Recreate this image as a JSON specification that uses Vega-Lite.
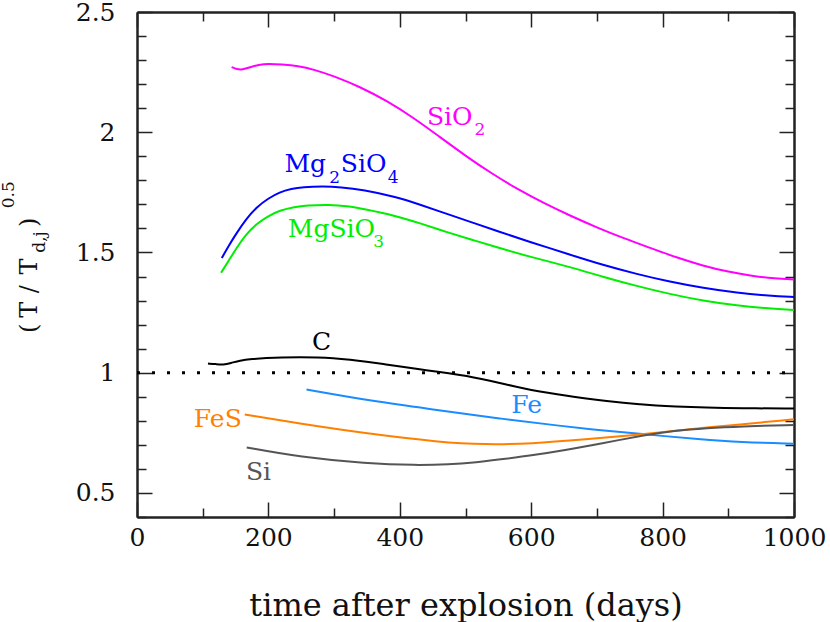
{
  "$schema": "https://vega.github.io/schema/vega-lite/v6.json",
  "width": 657,
  "height": 505,
  "autosize": {"type": "none"},
  "padding": {"left": 137, "top": 12, "right": 36, "bottom": 105},
  "background": "white",
  "config": {
    "view": {"stroke": null},
    "axis": {
      "domainColor": "#222", "tickColor": "#222", "domainWidth": 2, "tickWidth": 1.5,
      "labelFont": "DejaVu Serif", "labelFontSize": 25, "labelColor": "#111", "labelFlush": false,
      "titleFont": "DejaVu Serif", "titleFontSize": 32, "titleFontWeight": "normal", "titleColor": "#111",
      "grid": false
    }
  },
  "datasets": {
    "curves": [
      {"series": "SiO2", "t": 144, "v": 2.271}, {"series": "SiO2", "t": 152, "v": 2.262}, {"series": "SiO2", "t": 160, "v": 2.26},
      {"series": "SiO2", "t": 172, "v": 2.27}, {"series": "SiO2", "t": 185, "v": 2.281}, {"series": "SiO2", "t": 200, "v": 2.285},
      {"series": "SiO2", "t": 220, "v": 2.282}, {"series": "SiO2", "t": 245, "v": 2.276}, {"series": "SiO2", "t": 270, "v": 2.26},
      {"series": "SiO2", "t": 300, "v": 2.233}, {"series": "SiO2", "t": 340, "v": 2.188}, {"series": "SiO2", "t": 380, "v": 2.131},
      {"series": "SiO2", "t": 420, "v": 2.062}, {"series": "SiO2", "t": 460, "v": 1.982}, {"series": "SiO2", "t": 500, "v": 1.902},
      {"series": "SiO2", "t": 540, "v": 1.828}, {"series": "SiO2", "t": 580, "v": 1.762}, {"series": "SiO2", "t": 620, "v": 1.704},
      {"series": "SiO2", "t": 660, "v": 1.652}, {"series": "SiO2", "t": 700, "v": 1.604}, {"series": "SiO2", "t": 740, "v": 1.56},
      {"series": "SiO2", "t": 780, "v": 1.52}, {"series": "SiO2", "t": 820, "v": 1.48}, {"series": "SiO2", "t": 860, "v": 1.446},
      {"series": "SiO2", "t": 900, "v": 1.419}, {"series": "SiO2", "t": 940, "v": 1.401}, {"series": "SiO2", "t": 970, "v": 1.392},
      {"series": "SiO2", "t": 1000, "v": 1.388},

      {"series": "Mg2SiO4", "t": 129, "v": 1.477}, {"series": "Mg2SiO4", "t": 140, "v": 1.53}, {"series": "Mg2SiO4", "t": 151, "v": 1.578},
      {"series": "Mg2SiO4", "t": 165, "v": 1.635}, {"series": "Mg2SiO4", "t": 182, "v": 1.689}, {"series": "Mg2SiO4", "t": 200, "v": 1.725},
      {"series": "Mg2SiO4", "t": 217, "v": 1.751}, {"series": "Mg2SiO4", "t": 235, "v": 1.765}, {"series": "Mg2SiO4", "t": 252, "v": 1.772},
      {"series": "Mg2SiO4", "t": 283, "v": 1.775}, {"series": "Mg2SiO4", "t": 310, "v": 1.772}, {"series": "Mg2SiO4", "t": 344, "v": 1.761},
      {"series": "Mg2SiO4", "t": 395, "v": 1.731}, {"series": "Mg2SiO4", "t": 430, "v": 1.7}, {"series": "Mg2SiO4", "t": 471, "v": 1.661},
      {"series": "Mg2SiO4", "t": 510, "v": 1.625}, {"series": "Mg2SiO4", "t": 547, "v": 1.59}, {"series": "Mg2SiO4", "t": 598, "v": 1.544},
      {"series": "Mg2SiO4", "t": 659, "v": 1.491}, {"series": "Mg2SiO4", "t": 709, "v": 1.448}, {"series": "Mg2SiO4", "t": 761, "v": 1.41},
      {"series": "Mg2SiO4", "t": 811, "v": 1.378}, {"series": "Mg2SiO4", "t": 862, "v": 1.352}, {"series": "Mg2SiO4", "t": 913, "v": 1.332},
      {"series": "Mg2SiO4", "t": 963, "v": 1.32}, {"series": "Mg2SiO4", "t": 1000, "v": 1.315},

      {"series": "MgSiO3", "t": 128, "v": 1.416}, {"series": "MgSiO3", "t": 140, "v": 1.468}, {"series": "MgSiO3", "t": 151, "v": 1.516},
      {"series": "MgSiO3", "t": 165, "v": 1.572}, {"series": "MgSiO3", "t": 182, "v": 1.62}, {"series": "MgSiO3", "t": 200, "v": 1.652},
      {"series": "MgSiO3", "t": 217, "v": 1.675}, {"series": "MgSiO3", "t": 240, "v": 1.69}, {"series": "MgSiO3", "t": 258, "v": 1.696},
      {"series": "MgSiO3", "t": 293, "v": 1.699}, {"series": "MgSiO3", "t": 320, "v": 1.693}, {"series": "MgSiO3", "t": 344, "v": 1.682},
      {"series": "MgSiO3", "t": 395, "v": 1.652}, {"series": "MgSiO3", "t": 430, "v": 1.622}, {"series": "MgSiO3", "t": 471, "v": 1.585},
      {"series": "MgSiO3", "t": 510, "v": 1.553}, {"series": "MgSiO3", "t": 547, "v": 1.522}, {"series": "MgSiO3", "t": 598, "v": 1.482},
      {"series": "MgSiO3", "t": 659, "v": 1.44}, {"series": "MgSiO3", "t": 709, "v": 1.399}, {"series": "MgSiO3", "t": 761, "v": 1.36},
      {"series": "MgSiO3", "t": 811, "v": 1.327}, {"series": "MgSiO3", "t": 862, "v": 1.299}, {"series": "MgSiO3", "t": 913, "v": 1.279},
      {"series": "MgSiO3", "t": 963, "v": 1.267}, {"series": "MgSiO3", "t": 1000, "v": 1.261},

      {"series": "C", "t": 108, "v": 1.038}, {"series": "C", "t": 120, "v": 1.036}, {"series": "C", "t": 131, "v": 1.033},
      {"series": "C", "t": 143, "v": 1.04}, {"series": "C", "t": 156, "v": 1.051}, {"series": "C", "t": 175, "v": 1.057},
      {"series": "C", "t": 197, "v": 1.061}, {"series": "C", "t": 220, "v": 1.064}, {"series": "C", "t": 248, "v": 1.065},
      {"series": "C", "t": 275, "v": 1.064}, {"series": "C", "t": 298, "v": 1.061}, {"series": "C", "t": 325, "v": 1.054},
      {"series": "C", "t": 349, "v": 1.046}, {"series": "C", "t": 375, "v": 1.036}, {"series": "C", "t": 400, "v": 1.026},
      {"series": "C", "t": 430, "v": 1.014}, {"series": "C", "t": 461, "v": 1.003}, {"series": "C", "t": 490, "v": 0.991},
      {"series": "C", "t": 512, "v": 0.981}, {"series": "C", "t": 537, "v": 0.967}, {"series": "C", "t": 562, "v": 0.951},
      {"series": "C", "t": 588, "v": 0.935}, {"series": "C", "t": 613, "v": 0.922}, {"series": "C", "t": 640, "v": 0.91},
      {"series": "C", "t": 664, "v": 0.9}, {"series": "C", "t": 690, "v": 0.89}, {"series": "C", "t": 715, "v": 0.882},
      {"series": "C", "t": 740, "v": 0.875}, {"series": "C", "t": 765, "v": 0.869}, {"series": "C", "t": 790, "v": 0.864},
      {"series": "C", "t": 816, "v": 0.86}, {"series": "C", "t": 867, "v": 0.855}, {"series": "C", "t": 918, "v": 0.852},
      {"series": "C", "t": 1000, "v": 0.851},

      {"series": "Fe", "t": 258, "v": 0.93}, {"series": "Fe", "t": 359, "v": 0.881}, {"series": "Fe", "t": 461, "v": 0.844},
      {"series": "Fe", "t": 552, "v": 0.809}, {"series": "Fe", "t": 644, "v": 0.779}, {"series": "Fe", "t": 705, "v": 0.761},
      {"series": "Fe", "t": 776, "v": 0.743}, {"series": "Fe", "t": 857, "v": 0.723}, {"series": "Fe", "t": 918, "v": 0.711},
      {"series": "Fe", "t": 1000, "v": 0.705},

      {"series": "FeS", "t": 164, "v": 0.826}, {"series": "FeS", "t": 248, "v": 0.788}, {"series": "FeS", "t": 349, "v": 0.747},
      {"series": "FeS", "t": 461, "v": 0.711}, {"series": "FeS", "t": 530, "v": 0.701}, {"series": "FeS", "t": 600, "v": 0.705},
      {"series": "FeS", "t": 680, "v": 0.722}, {"series": "FeS", "t": 776, "v": 0.745}, {"series": "FeS", "t": 868, "v": 0.773},
      {"series": "FeS", "t": 1000, "v": 0.806},

      {"series": "Si", "t": 167, "v": 0.689}, {"series": "Si", "t": 248, "v": 0.649}, {"series": "Si", "t": 349, "v": 0.622},
      {"series": "Si", "t": 425, "v": 0.615}, {"series": "Si", "t": 476, "v": 0.619}, {"series": "Si", "t": 511, "v": 0.625},
      {"series": "Si", "t": 552, "v": 0.639}, {"series": "Si", "t": 603, "v": 0.657}, {"series": "Si", "t": 654, "v": 0.679},
      {"series": "Si", "t": 705, "v": 0.705}, {"series": "Si", "t": 776, "v": 0.742}, {"series": "Si", "t": 816, "v": 0.758},
      {"series": "Si", "t": 868, "v": 0.77}, {"series": "Si", "t": 918, "v": 0.777}, {"series": "Si", "t": 1000, "v": 0.783}
    ],
    "unity": [{"t": 0, "v": 1}, {"t": 1000, "v": 1}],
    "labels": [
      {"series": "SiO2", "label": "SiO", "t": 476, "v": 2.029},
      {"series": "Mg2SiO4", "label": "Mg", "t": 256, "v": 1.833},
      {"series": "Mg2SiO4", "label": "SiO", "t": 345, "v": 1.833},
      {"series": "MgSiO3", "label": "MgSiO", "t": 296, "v": 1.563},
      {"series": "C", "label": "C", "t": 281, "v": 1.093},
      {"series": "Fe", "label": "Fe", "t": 593, "v": 0.831},
      {"series": "FeS", "label": "FeS", "t": 123, "v": 0.773},
      {"series": "Si", "label": "Si", "t": 185, "v": 0.553}
    ],
    "subs": [
      {"series": "SiO2", "label": "2", "t": 522, "v": 1.987},
      {"series": "Mg2SiO4", "label": "2", "t": 301, "v": 1.788},
      {"series": "Mg2SiO4", "label": "4", "t": 390, "v": 1.788},
      {"series": "MgSiO3", "label": "3", "t": 368, "v": 1.523}
    ],
    "ytitle_main": [
      {"label": "(", "t": -152.7, "v": 1.185},
      {"label": "T", "t": -152.7, "v": 1.2615},
      {"label": "/", "t": -152.7, "v": 1.347},
      {"label": "T", "t": -152.7, "v": 1.442},
      {"label": ")", "t": -152.7, "v": 1.625}
    ],
    "ytitle_small": [
      {"label": "d,j", "t": -140.5, "v": 1.544},
      {"label": "0.5", "t": -186.7, "v": 1.74}
    ]
  },
  "layer": [
    {
      "data": {"name": "curves"},
      "mark": {"type": "line", "strokeWidth": 2, "interpolate": "basis"},
      "encoding": {
        "x": {"field": "t", "type": "quantitative",
          "scale": {"domain": [0, 1000], "nice": false, "zero": false},
          "axis": {"orient": "bottom", "values": [0, 200, 400, 600, 800, 1000], "tickSize": -15, "labelPadding": 23, "format": "d",
            "title": "time after explosion (days)", "titlePadding": 40}},
        "y": {"field": "v", "type": "quantitative",
          "scale": {"domain": [0.4, 2.5], "nice": false, "zero": false},
          "axis": {"orient": "left", "values": [0.5, 1, 1.5, 2, 2.5], "tickSize": -15, "labelPadding": 37, "format": "~g", "title": null}},
        "color": {"field": "series", "type": "nominal",
          "scale": {"domain": ["SiO2", "Mg2SiO4", "MgSiO3", "C", "Fe", "FeS", "Si"],
                    "range": ["#ff00ff", "#0000ff", "#00ee00", "#000000", "#1a8cff", "#ff8000", "#555555"]},
          "legend": null}
      }
    },
    {
      "data": {"name": "unity"},
      "mark": {"type": "line", "strokeWidth": 3, "strokeDash": [3, 12], "color": "#000000"},
      "encoding": {
        "x": {"field": "t", "type": "quantitative",
          "scale": {"domain": [0, 1000], "nice": false, "zero": false},
          "axis": {"orient": "bottom", "values": [100, 300, 500, 700, 900], "tickSize": -9, "labels": false, "title": null}},
        "y": {"field": "v", "type": "quantitative",
          "scale": {"domain": [0.4, 2.5], "nice": false, "zero": false},
          "axis": {"orient": "left", "values": [0.4, 0.6, 0.7, 0.8, 0.9, 1.1, 1.2, 1.3, 1.4, 1.6, 1.7, 1.8, 1.9, 2.1, 2.2, 2.3, 2.4], "tickSize": -9, "labels": false, "title": null}}
      }
    },
    {
      "data": {"name": "labels"},
      "mark": {"type": "text", "font": "DejaVu Serif", "fontSize": 25, "align": "center", "baseline": "alphabetic"},
      "encoding": {
        "x": {"field": "t", "type": "quantitative",
          "scale": {"domain": [0, 1000], "nice": false, "zero": false},
          "axis": {"orient": "top", "values": [0, 200, 400, 600, 800, 1000], "tickSize": -15, "labels": false, "title": null}},
        "y": {"field": "v", "type": "quantitative",
          "scale": {"domain": [0.4, 2.5], "nice": false, "zero": false},
          "axis": {"orient": "right", "values": [0.5, 1, 1.5, 2, 2.5], "tickSize": -15, "labels": false, "title": null}},
        "text": {"field": "label"},
        "color": {"field": "series", "type": "nominal", "legend": null}
      }
    },
    {
      "data": {"name": "subs"},
      "mark": {"type": "text", "font": "DejaVu Serif", "fontSize": 17, "align": "center", "baseline": "alphabetic"},
      "encoding": {
        "x": {"field": "t", "type": "quantitative",
          "scale": {"domain": [0, 1000], "nice": false, "zero": false},
          "axis": {"orient": "top", "values": [100, 300, 500, 700, 900], "tickSize": -9, "labels": false, "title": null}},
        "y": {"field": "v", "type": "quantitative",
          "scale": {"domain": [0.4, 2.5], "nice": false, "zero": false},
          "axis": {"orient": "right", "values": [0.4, 0.6, 0.7, 0.8, 0.9, 1.1, 1.2, 1.3, 1.4, 1.6, 1.7, 1.8, 1.9, 2.1, 2.2, 2.3, 2.4], "tickSize": -9, "labels": false, "title": null}},
        "text": {"field": "label"},
        "color": {"field": "series", "type": "nominal", "legend": null}
      }
    },
    {
      "data": {"name": "ytitle_main"},
      "mark": {"type": "text", "font": "DejaVu Serif", "fontSize": 24, "align": "center", "baseline": "alphabetic", "angle": 270, "color": "#111111"},
      "encoding": {
        "x": {"field": "t", "type": "quantitative", "scale": {"domain": [0, 1000], "nice": false, "zero": false}, "axis": null},
        "y": {"field": "v", "type": "quantitative", "scale": {"domain": [0.4, 2.5], "nice": false, "zero": false}, "axis": null},
        "text": {"field": "label"}
      }
    },
    {
      "data": {"name": "ytitle_small"},
      "mark": {"type": "text", "font": "DejaVu Serif", "fontSize": 17, "align": "center", "baseline": "alphabetic", "angle": 270, "color": "#111111"},
      "encoding": {
        "x": {"field": "t", "type": "quantitative", "scale": {"domain": [0, 1000], "nice": false, "zero": false}, "axis": null},
        "y": {"field": "v", "type": "quantitative", "scale": {"domain": [0.4, 2.5], "nice": false, "zero": false}, "axis": null},
        "text": {"field": "label"}
      }
    }
  ],
  "resolve": {"axis": {"x": "independent", "y": "independent"}}
}
